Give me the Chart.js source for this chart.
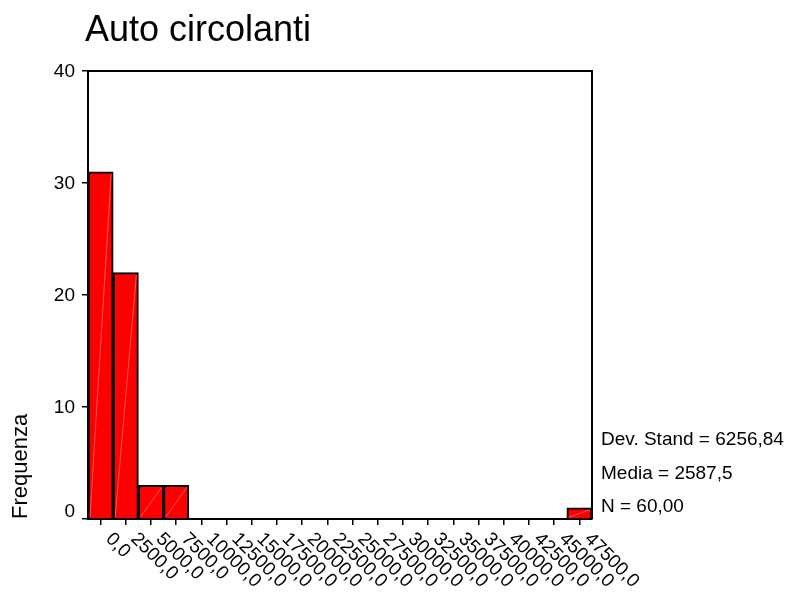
<!DOCTYPE html>
<html>
<head>
<meta charset="utf-8">
<title>Auto circolanti</title>
<script src="https://cdn.jsdelivr.net/npm/chart.js@4.4.1/dist/chart.umd.min.js"></script>
<style>
  html, body { margin: 0; padding: 0; background: #fff; }
  #wrap { width: 795px; height: 595px; position: relative; }
</style>
</head>
<body>
<div id="wrap"><canvas id="histo"></canvas></div>
<script>
// bins of 2500, labels as printed by SPSS
const categories = ['0,0', '2500,0', '5000,0', '7500,0', '10000,0', '12500,0', '15000,0',
    '17500,0', '20000,0', '22500,0', '25000,0', '27500,0', '30000,0', '32500,0',
    '35000,0', '37500,0', '40000,0', '42500,0', '45000,0', '47500,0'];
const frequencies = [31, 22, 3, 3, 0, 0, 0, 0, 0, 0, 0, 0, 0, 0, 0, 0, 0, 0, 0, 1];
const yTickValues = [0, 10, 20, 30, 40];
const statLines = ['Dev. Stand = 6256,84', 'Media = 2587,5', 'N = 60,00'];
const chartTitle = 'Auto circolanti';
const yTitle = 'Frequenza';

const FONT = "'Liberation Sans', Arial, sans-serif";
Chart.defaults.font.family = FONT;
Chart.defaults.color = '#000';

// title, frame, rotated x labels, y labels, stats box and the faint diagonal in the bars
const spssDecor = {
    id: 'spssDecor',
    afterDatasetsDraw(chart) {
        const ctx = chart.ctx;
        const meta = chart.getDatasetMeta(0);
        ctx.save();
        meta.data.forEach((bar, i) => {
            if (!frequencies[i]) return;
            const p = bar.getProps(['x', 'y', 'base', 'width'], true);
            ctx.beginPath();
            ctx.moveTo(p.x - p.width / 2 + 2, p.base - 1);
            ctx.lineTo(p.x + p.width / 2 - 2, p.y + 2);
            ctx.strokeStyle = 'rgba(255,150,150,0.8)';
            ctx.lineWidth = 0.7;
            ctx.stroke();
        });
        ctx.restore();
    },
    afterDraw(chart) {
        const ctx = chart.ctx;
        const area = chart.chartArea;
        const xs = chart.scales.x;
        const ys = chart.scales.y;
        ctx.save();

        // top and right frame lines
        ctx.strokeStyle = '#000';
        ctx.lineWidth = 2;
        ctx.beginPath();
        ctx.moveTo(area.left, area.top);
        ctx.lineTo(area.right, area.top);
        ctx.lineTo(area.right, area.bottom);
        ctx.stroke();

        // title
        ctx.fillStyle = '#000';
        ctx.font = '36px ' + FONT;
        ctx.textAlign = 'left';
        ctx.textBaseline = 'alphabetic';
        ctx.fillText(chartTitle, 85, 41);

        // y tick labels (the 0 is lifted off the x axis like SPSS does)
        ctx.font = '19px ' + FONT;
        ctx.textAlign = 'right';
        ctx.textBaseline = 'middle';
        yTickValues.forEach(v => {
            let y = ys.getPixelForValue(v);
            if (v === 0) y -= 8;
            ctx.fillText(String(v), area.left - 13, y + 1);
        });

        // x tick labels, rotated clockwise
        ctx.textAlign = 'left';
        categories.forEach((lab, i) => {
            const x = xs.getPixelForValue(i);
            ctx.save();
            ctx.translate(x + 8, area.bottom + 17);
            ctx.rotate(Math.PI / 4);
            ctx.fillText(lab, 0, 0);
            ctx.restore();
        });

        // stats
        ctx.textBaseline = 'alphabetic';
        statLines.forEach((s, i) => {
            ctx.fillText(s, area.right + 9, 445 + i * 33.5);
        });
        ctx.restore();
    }
};

new Chart(document.getElementById('histo'), {
    type: 'bar',
    data: {
        labels: categories,
        datasets: [{
            data: frequencies,
            backgroundColor: '#ff0000',
            borderColor: '#000',
            borderWidth: 2,
            categoryPercentage: 1,
            barPercentage: 1
        }]
    },
    options: {
        responsive: true,
        maintainAspectRatio: false,
        animation: false,
        layout: {
            padding: { top: 71, left: 8, right: 203, bottom: 70 }
        },
        plugins: {
            legend: { display: false },
            tooltip: { enabled: false }
        },
        scales: {
            x: {
                offset: true,
                grid: {
                    offset: false,
                    drawOnChartArea: false,
                    tickLength: 6,
                    color: '#000',
                    lineWidth: 1.5
                },
                border: { color: '#000', width: 2 },
                ticks: { display: false },
                afterFit: scale => { scale.height = 6; }
            },
            y: {
                min: 0,
                max: 40,
                ticks: { display: false, stepSize: 10 },
                grid: {
                    drawOnChartArea: false,
                    tickLength: 6,
                    color: '#000',
                    lineWidth: 1.5
                },
                border: { color: '#000', width: 2 },
                title: {
                    display: true,
                    text: yTitle,
                    align: 'start',
                    font: { size: 22 },
                    padding: 0
                },
                afterFit: scale => { scale.width = 80; }
            }
        }
    },
    plugins: [spssDecor]
});
</script>
</body>
</html>
